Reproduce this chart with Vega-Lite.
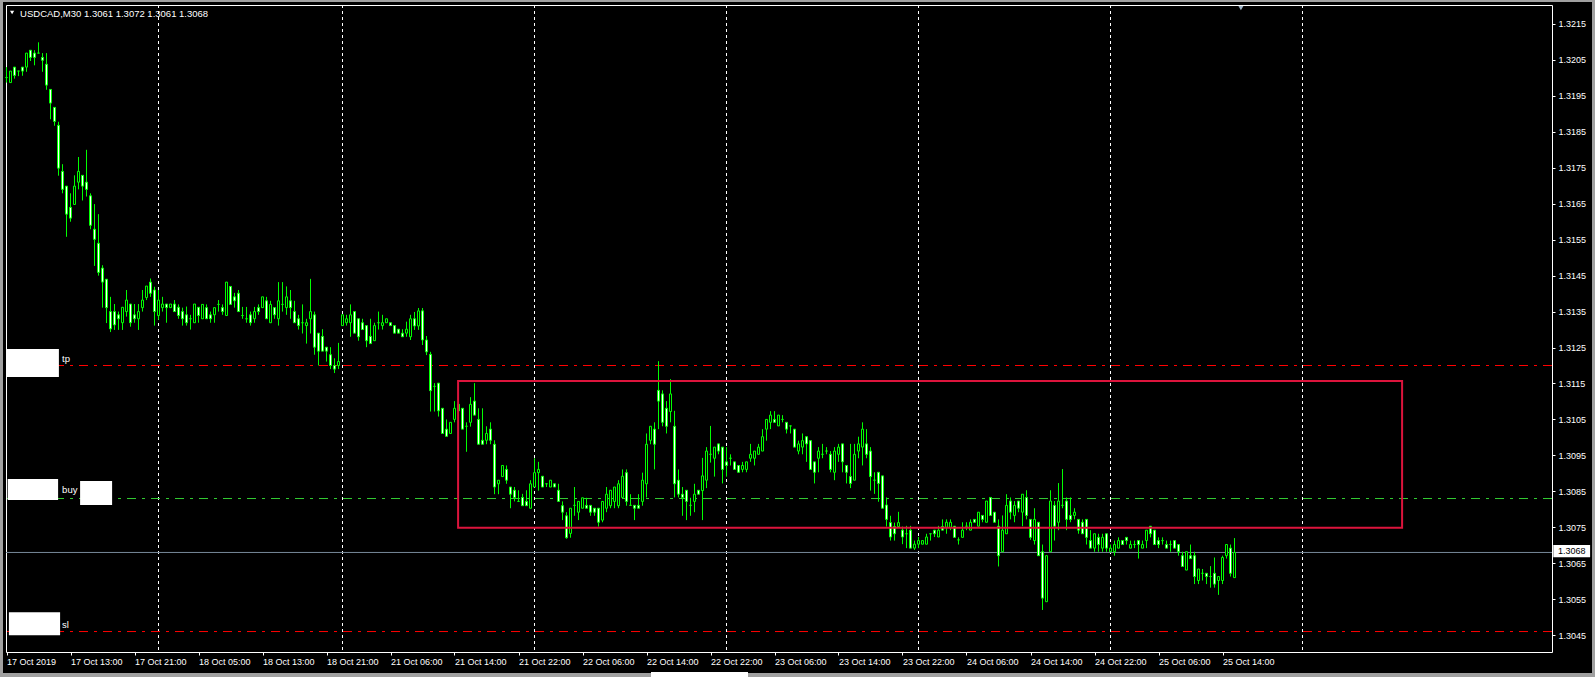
{
"$schema":"https://vega.github.io/schema/vega-lite/v6.json",
"width":1546,"height":647,
"autosize":{"type":"none"},
"padding":{"left":6,"top":5,"right":43,"bottom":25},
"background":"#000000",
"config":{"view":{"stroke":"#ffffff","strokeWidth":1},
"axis":{"domain":false,"grid":false,"tickColor":"#ffffff","labelColor":"#ffffff","labelFont":"Liberation Sans","labelFontSize":9,"labelOverlap":false,"labelFlush":false,"labelBound":false}},
"resolve":{"axis":{"x":"independent","y":"independent"}},
"datasets":{
"candles":[
{"i":0,"o":1.32001,"h":1.3203,"l":1.31987,"c":1.32001},
{"i":1,"o":1.31987,"h":1.32019,"l":1.31987,"c":1.32019},
{"i":2,"o":1.3203,"h":1.3203,"l":1.31998,"c":1.32007},
{"i":3,"o":1.32019,"h":1.32019,"l":1.32005,"c":1.32019},
{"i":4,"o":1.3203,"h":1.3203,"l":1.32006,"c":1.32019},
{"i":5,"o":1.3203,"h":1.32069,"l":1.32017,"c":1.32069},
{"i":6,"o":1.32077,"h":1.32077,"l":1.32047,"c":1.32057},
{"i":7,"o":1.32069,"h":1.32077,"l":1.32035,"c":1.32057},
{"i":8,"o":1.32069,"h":1.32099,"l":1.32069,"c":1.32069},
{"i":9,"o":1.32057,"h":1.32069,"l":1.32017,"c":1.32049},
{"i":10,"o":1.32038,"h":1.32069,"l":1.31967,"c":1.3198},
{"i":11,"o":1.31968,"h":1.31968,"l":1.31885,"c":1.3193},
{"i":12,"o":1.31918,"h":1.31918,"l":1.31867,"c":1.31879},
{"i":13,"o":1.31868,"h":1.31878,"l":1.31728,"c":1.31749},
{"i":14,"o":1.3174,"h":1.3176,"l":1.31679,"c":1.3169},
{"i":15,"o":1.31699,"h":1.31699,"l":1.31558,"c":1.31621},
{"i":16,"o":1.3164,"h":1.31679,"l":1.316,"c":1.3161},
{"i":17,"o":1.31648,"h":1.31729,"l":1.31648,"c":1.31699},
{"i":18,"o":1.3171,"h":1.3178,"l":1.3169,"c":1.3174},
{"i":19,"o":1.31729,"h":1.31729,"l":1.31659,"c":1.31699},
{"i":20,"o":1.3171,"h":1.318,"l":1.3167,"c":1.3169},
{"i":21,"o":1.31672,"h":1.31679,"l":1.31579,"c":1.3159},
{"i":22,"o":1.31579,"h":1.31649,"l":1.31477,"c":1.31551},
{"i":23,"o":1.3154,"h":1.31621,"l":1.3145,"c":1.31459},
{"i":24,"o":1.31471,"h":1.31479,"l":1.31361,"c":1.31432},
{"i":25,"o":1.3144,"h":1.3144,"l":1.31318,"c":1.31361},
{"i":26,"o":1.3135,"h":1.31391,"l":1.31293,"c":1.31302},
{"i":27,"o":1.3135,"h":1.31371,"l":1.31299,"c":1.31313},
{"i":28,"o":1.31341,"h":1.3135,"l":1.31299,"c":1.3133},
{"i":29,"o":1.31319,"h":1.31362,"l":1.31299,"c":1.31362},
{"i":30,"o":1.3135,"h":1.3141,"l":1.31336,"c":1.31382},
{"i":31,"o":1.31371,"h":1.31371,"l":1.31308,"c":1.31319},
{"i":32,"o":1.31341,"h":1.31371,"l":1.31319,"c":1.3133},
{"i":33,"o":1.3133,"h":1.31371,"l":1.31299,"c":1.3135},
{"i":34,"o":1.31361,"h":1.3141,"l":1.3135,"c":1.31382},
{"i":35,"o":1.31389,"h":1.31421,"l":1.31382,"c":1.31421},
{"i":36,"o":1.31432,"h":1.31442,"l":1.31391,"c":1.31401},
{"i":37,"o":1.3141,"h":1.31419,"l":1.31311,"c":1.3135},
{"i":38,"o":1.31339,"h":1.3141,"l":1.31327,"c":1.31382},
{"i":39,"o":1.31361,"h":1.31391,"l":1.3135,"c":1.31371},
{"i":40,"o":1.31371,"h":1.31371,"l":1.31319,"c":1.31361},
{"i":41,"o":1.31361,"h":1.31371,"l":1.31361,"c":1.31371},
{"i":42,"o":1.31371,"h":1.31382,"l":1.3135,"c":1.3135},
{"i":43,"o":1.31362,"h":1.3137,"l":1.3133,"c":1.31339},
{"i":44,"o":1.3135,"h":1.31361,"l":1.31311,"c":1.3133},
{"i":45,"o":1.31341,"h":1.31364,"l":1.31311,"c":1.31319},
{"i":46,"o":1.3133,"h":1.31341,"l":1.313,"c":1.3133},
{"i":47,"o":1.31319,"h":1.31371,"l":1.31319,"c":1.31371},
{"i":48,"o":1.31362,"h":1.31362,"l":1.31319,"c":1.31339},
{"i":49,"o":1.3133,"h":1.3137,"l":1.3133,"c":1.3137},
{"i":50,"o":1.31361,"h":1.3137,"l":1.3133,"c":1.3133},
{"i":51,"o":1.31341,"h":1.3135,"l":1.31319,"c":1.3133},
{"i":52,"o":1.31341,"h":1.31361,"l":1.31319,"c":1.31361},
{"i":53,"o":1.3137,"h":1.31382,"l":1.3135,"c":1.3137},
{"i":54,"o":1.31361,"h":1.3137,"l":1.31341,"c":1.3135},
{"i":55,"o":1.31339,"h":1.31432,"l":1.31339,"c":1.31432},
{"i":56,"o":1.3142,"h":1.3142,"l":1.3137,"c":1.3137},
{"i":57,"o":1.31391,"h":1.31402,"l":1.31361,"c":1.3138},
{"i":58,"o":1.31401,"h":1.3141,"l":1.3135,"c":1.3135},
{"i":59,"o":1.31339,"h":1.31363,"l":1.3133,"c":1.31339},
{"i":60,"o":1.3133,"h":1.31363,"l":1.31319,"c":1.3133},
{"i":61,"o":1.31341,"h":1.3135,"l":1.31311,"c":1.31319},
{"i":62,"o":1.3133,"h":1.31363,"l":1.31319,"c":1.3135},
{"i":63,"o":1.31361,"h":1.3137,"l":1.31341,"c":1.3135},
{"i":64,"o":1.31361,"h":1.31391,"l":1.31361,"c":1.31391},
{"i":65,"o":1.3138,"h":1.31391,"l":1.3133,"c":1.3133},
{"i":66,"o":1.31319,"h":1.3138,"l":1.31319,"c":1.3137},
{"i":67,"o":1.31361,"h":1.31361,"l":1.3133,"c":1.31341},
{"i":68,"o":1.3133,"h":1.31432,"l":1.31311,"c":1.3138},
{"i":69,"o":1.3137,"h":1.31432,"l":1.3135,"c":1.3137},
{"i":70,"o":1.31361,"h":1.3142,"l":1.31341,"c":1.31391},
{"i":71,"o":1.3138,"h":1.3141,"l":1.3133,"c":1.31361},
{"i":72,"o":1.3135,"h":1.3138,"l":1.31319,"c":1.31319},
{"i":73,"o":1.3133,"h":1.31341,"l":1.313,"c":1.31311},
{"i":74,"o":1.31319,"h":1.3137,"l":1.31289,"c":1.31319},
{"i":75,"o":1.31311,"h":1.3133,"l":1.31261,"c":1.31319},
{"i":76,"o":1.3133,"h":1.31441,"l":1.31289,"c":1.3135},
{"i":77,"o":1.31341,"h":1.3135,"l":1.3123,"c":1.31251},
{"i":78,"o":1.3129,"h":1.3129,"l":1.312,"c":1.3124},
{"i":79,"o":1.31281,"h":1.31301,"l":1.3124,"c":1.3124},
{"i":80,"o":1.31251,"h":1.31251,"l":1.31211,"c":1.3124},
{"i":81,"o":1.3123,"h":1.31251,"l":1.3119,"c":1.312},
{"i":82,"o":1.312,"h":1.3122,"l":1.31179,"c":1.3119},
{"i":83,"o":1.312,"h":1.31263,"l":1.3119,"c":1.31211},
{"i":84,"o":1.31311,"h":1.31341,"l":1.31311,"c":1.31341},
{"i":85,"o":1.31319,"h":1.31341,"l":1.31311,"c":1.3133},
{"i":86,"o":1.31319,"h":1.3137,"l":1.3128,"c":1.31341},
{"i":87,"o":1.3135,"h":1.3135,"l":1.3129,"c":1.3129},
{"i":88,"o":1.3133,"h":1.3133,"l":1.31269,"c":1.3128},
{"i":89,"o":1.31319,"h":1.3133,"l":1.313,"c":1.313},
{"i":90,"o":1.31311,"h":1.31311,"l":1.31251,"c":1.31269},
{"i":91,"o":1.31281,"h":1.3133,"l":1.31261,"c":1.31261},
{"i":92,"o":1.31269,"h":1.31319,"l":1.31269,"c":1.31311},
{"i":93,"o":1.31319,"h":1.3135,"l":1.313,"c":1.31319},
{"i":94,"o":1.31311,"h":1.31341,"l":1.313,"c":1.31319},
{"i":95,"o":1.31319,"h":1.3133,"l":1.31319,"c":1.3133},
{"i":96,"o":1.31319,"h":1.31319,"l":1.31311,"c":1.31311},
{"i":97,"o":1.31311,"h":1.31311,"l":1.3129,"c":1.3129},
{"i":98,"o":1.31301,"h":1.31301,"l":1.3129,"c":1.3129},
{"i":99,"o":1.3129,"h":1.31301,"l":1.3128,"c":1.3128},
{"i":100,"o":1.3129,"h":1.31322,"l":1.3128,"c":1.31301},
{"i":101,"o":1.3128,"h":1.31341,"l":1.31271,"c":1.3133},
{"i":102,"o":1.3133,"h":1.31349,"l":1.31299,"c":1.3131},
{"i":103,"o":1.3131,"h":1.3136,"l":1.31299,"c":1.31352},
{"i":104,"o":1.31352,"h":1.3136,"l":1.31257,"c":1.31271},
{"i":105,"o":1.31271,"h":1.31282,"l":1.31229,"c":1.31238},
{"i":106,"o":1.31231,"h":1.31238,"l":1.31072,"c":1.3113},
{"i":107,"o":1.31142,"h":1.31151,"l":1.31072,"c":1.31142},
{"i":108,"o":1.31151,"h":1.31151,"l":1.31058,"c":1.31074},
{"i":109,"o":1.31081,"h":1.31081,"l":1.31011,"c":1.31011},
{"i":110,"o":1.31023,"h":1.3105,"l":1.31003,"c":1.31003},
{"i":111,"o":1.31011,"h":1.31042,"l":1.31011,"c":1.31042},
{"i":112,"o":1.3105,"h":1.31101,"l":1.31042,"c":1.31081},
{"i":113,"o":1.31092,"h":1.31101,"l":1.31039,"c":1.31074},
{"i":114,"o":1.31081,"h":1.31081,"l":1.31023,"c":1.31023},
{"i":115,"o":1.31031,"h":1.31042,"l":1.3096,"c":1.31031},
{"i":116,"o":1.31042,"h":1.31112,"l":1.3103,"c":1.31092},
{"i":117,"o":1.31101,"h":1.31151,"l":1.31062,"c":1.31062},
{"i":118,"o":1.3105,"h":1.31081,"l":1.30981,"c":1.30981},
{"i":119,"o":1.30992,"h":1.31081,"l":1.30981,"c":1.30981},
{"i":120,"o":1.30992,"h":1.31031,"l":1.30981,"c":1.31011},
{"i":121,"o":1.31023,"h":1.31042,"l":1.30981,"c":1.30992},
{"i":122,"o":1.30981,"h":1.30992,"l":1.30842,"c":1.30862},
{"i":123,"o":1.30871,"h":1.30881,"l":1.30842,"c":1.30881},
{"i":124,"o":1.30891,"h":1.30922,"l":1.30891,"c":1.30922},
{"i":125,"o":1.30911,"h":1.30922,"l":1.30871,"c":1.30881},
{"i":126,"o":1.30862,"h":1.30862,"l":1.30803,"c":1.30842},
{"i":127,"o":1.30853,"h":1.30862,"l":1.30822,"c":1.30833},
{"i":128,"o":1.30822,"h":1.30853,"l":1.30822,"c":1.30822},
{"i":129,"o":1.30833,"h":1.30843,"l":1.3081,"c":1.3081},
{"i":130,"o":1.30822,"h":1.30853,"l":1.3081,"c":1.3081},
{"i":131,"o":1.30803,"h":1.30881,"l":1.30803,"c":1.30871},
{"i":132,"o":1.30862,"h":1.30942,"l":1.30862,"c":1.30902},
{"i":133,"o":1.30902,"h":1.30932,"l":1.30852,"c":1.30911},
{"i":134,"o":1.30892,"h":1.30892,"l":1.30862,"c":1.30862},
{"i":135,"o":1.30871,"h":1.30871,"l":1.30862,"c":1.30871},
{"i":136,"o":1.30862,"h":1.30881,"l":1.30862,"c":1.30881},
{"i":137,"o":1.30871,"h":1.30871,"l":1.30862,"c":1.30862},
{"i":138,"o":1.30853,"h":1.30871,"l":1.30822,"c":1.30822},
{"i":139,"o":1.3081,"h":1.30822,"l":1.3077,"c":1.30792},
{"i":140,"o":1.30782,"h":1.30792,"l":1.30718,"c":1.30721},
{"i":141,"o":1.30733,"h":1.30803,"l":1.30721,"c":1.30803},
{"i":142,"o":1.30811,"h":1.30862,"l":1.30782,"c":1.30811},
{"i":143,"o":1.30792,"h":1.30822,"l":1.3077,"c":1.30822},
{"i":144,"o":1.30803,"h":1.30832,"l":1.30803,"c":1.30832},
{"i":145,"o":1.30811,"h":1.30832,"l":1.30803,"c":1.30803},
{"i":146,"o":1.30811,"h":1.30811,"l":1.30782,"c":1.30792},
{"i":147,"o":1.30803,"h":1.30803,"l":1.30782,"c":1.30792},
{"i":148,"o":1.30803,"h":1.30803,"l":1.30752,"c":1.30764},
{"i":149,"o":1.3077,"h":1.30822,"l":1.30764,"c":1.30822},
{"i":150,"o":1.30803,"h":1.30862,"l":1.30792,"c":1.30842},
{"i":151,"o":1.3081,"h":1.30853,"l":1.30803,"c":1.30853},
{"i":152,"o":1.30822,"h":1.30862,"l":1.30803,"c":1.30862},
{"i":153,"o":1.3081,"h":1.30881,"l":1.30803,"c":1.30871},
{"i":154,"o":1.30833,"h":1.30911,"l":1.30833,"c":1.30892},
{"i":155,"o":1.30902,"h":1.30911,"l":1.3081,"c":1.30822},
{"i":156,"o":1.30811,"h":1.30842,"l":1.30811,"c":1.30811},
{"i":157,"o":1.30811,"h":1.30811,"l":1.3077,"c":1.30803},
{"i":158,"o":1.30811,"h":1.30842,"l":1.30803,"c":1.30803},
{"i":159,"o":1.30822,"h":1.30902,"l":1.3081,"c":1.30881},
{"i":160,"o":1.30871,"h":1.31011,"l":1.30833,"c":1.30981},
{"i":161,"o":1.30992,"h":1.31031,"l":1.30981,"c":1.31031},
{"i":162,"o":1.31023,"h":1.31042,"l":1.30911,"c":1.30981},
{"i":163,"o":1.31131,"h":1.31212,"l":1.31023,"c":1.31101},
{"i":164,"o":1.31121,"h":1.31131,"l":1.31031,"c":1.31042},
{"i":165,"o":1.31081,"h":1.31101,"l":1.31011,"c":1.31031},
{"i":166,"o":1.31072,"h":1.31162,"l":1.31042,"c":1.31121},
{"i":167,"o":1.31031,"h":1.31074,"l":1.30833,"c":1.30871},
{"i":168,"o":1.30881,"h":1.30911,"l":1.30833,"c":1.30842},
{"i":169,"o":1.30842,"h":1.30862,"l":1.30782,"c":1.30833},
{"i":170,"o":1.30853,"h":1.30853,"l":1.3077,"c":1.30822},
{"i":171,"o":1.30811,"h":1.30832,"l":1.30782,"c":1.30811},
{"i":172,"o":1.30822,"h":1.30871,"l":1.30792,"c":1.30842},
{"i":173,"o":1.30853,"h":1.30853,"l":1.30842,"c":1.30842},
{"i":174,"o":1.30852,"h":1.30943,"l":1.3077,"c":1.30893},
{"i":175,"o":1.30881,"h":1.30973,"l":1.30859,"c":1.30962},
{"i":176,"o":1.30953,"h":1.31032,"l":1.3093,"c":1.30953},
{"i":177,"o":1.30942,"h":1.30973,"l":1.30891,"c":1.30973},
{"i":178,"o":1.30982,"h":1.30982,"l":1.30953,"c":1.30962},
{"i":179,"o":1.30973,"h":1.30973,"l":1.30872,"c":1.30911},
{"i":180,"o":1.30932,"h":1.30973,"l":1.30891,"c":1.30922},
{"i":181,"o":1.30942,"h":1.30953,"l":1.30922,"c":1.30942},
{"i":182,"o":1.30932,"h":1.30932,"l":1.30911,"c":1.30911},
{"i":183,"o":1.30922,"h":1.30922,"l":1.30903,"c":1.30903},
{"i":184,"o":1.30911,"h":1.30932,"l":1.30903,"c":1.30922},
{"i":185,"o":1.30911,"h":1.30932,"l":1.30903,"c":1.30932},
{"i":186,"o":1.30942,"h":1.30982,"l":1.30932,"c":1.30953},
{"i":187,"o":1.30942,"h":1.30962,"l":1.30922,"c":1.30962},
{"i":188,"o":1.30953,"h":1.30982,"l":1.30953,"c":1.30973},
{"i":189,"o":1.30962,"h":1.31023,"l":1.30962,"c":1.31002},
{"i":190,"o":1.31023,"h":1.3105,"l":1.30991,"c":1.3105},
{"i":191,"o":1.31042,"h":1.31073,"l":1.31023,"c":1.31062},
{"i":192,"o":1.3105,"h":1.31073,"l":1.31042,"c":1.31042},
{"i":193,"o":1.31032,"h":1.31062,"l":1.31032,"c":1.31062},
{"i":194,"o":1.3105,"h":1.31062,"l":1.31042,"c":1.3105},
{"i":195,"o":1.31042,"h":1.31042,"l":1.31011,"c":1.31023},
{"i":196,"o":1.31032,"h":1.31032,"l":1.31011,"c":1.31032},
{"i":197,"o":1.31023,"h":1.31023,"l":1.30973,"c":1.30973},
{"i":198,"o":1.30962,"h":1.30991,"l":1.30953,"c":1.30982},
{"i":199,"o":1.30973,"h":1.31011,"l":1.30953,"c":1.30991},
{"i":200,"o":1.31002,"h":1.31002,"l":1.30932,"c":1.30982},
{"i":201,"o":1.30991,"h":1.30991,"l":1.30911,"c":1.30911},
{"i":202,"o":1.30932,"h":1.30932,"l":1.30872,"c":1.30903},
{"i":203,"o":1.30942,"h":1.30973,"l":1.30903,"c":1.30962},
{"i":204,"o":1.30953,"h":1.30982,"l":1.30942,"c":1.30953},
{"i":205,"o":1.30962,"h":1.30973,"l":1.30953,"c":1.30962},
{"i":206,"o":1.30953,"h":1.30962,"l":1.30903,"c":1.30911},
{"i":207,"o":1.30903,"h":1.30973,"l":1.30881,"c":1.30962},
{"i":208,"o":1.30953,"h":1.30982,"l":1.30932,"c":1.30973},
{"i":209,"o":1.30982,"h":1.30982,"l":1.30903,"c":1.30932},
{"i":210,"o":1.30922,"h":1.30922,"l":1.30872,"c":1.30903},
{"i":211,"o":1.30891,"h":1.30982,"l":1.30859,"c":1.30872},
{"i":212,"o":1.30881,"h":1.30982,"l":1.30881,"c":1.30953},
{"i":213,"o":1.30962,"h":1.31002,"l":1.30942,"c":1.30982},
{"i":214,"o":1.30973,"h":1.31042,"l":1.30922,"c":1.31023},
{"i":215,"o":1.30982,"h":1.31023,"l":1.30942,"c":1.30953},
{"i":216,"o":1.30962,"h":1.30973,"l":1.30852,"c":1.30891},
{"i":217,"o":1.30881,"h":1.30903,"l":1.30843,"c":1.30881},
{"i":218,"o":1.30903,"h":1.30903,"l":1.30821,"c":1.30872},
{"i":219,"o":1.30893,"h":1.30893,"l":1.30803,"c":1.30803},
{"i":220,"o":1.30812,"h":1.30833,"l":1.30752,"c":1.30772},
{"i":221,"o":1.30763,"h":1.30782,"l":1.30713,"c":1.30723},
{"i":222,"o":1.30752,"h":1.30763,"l":1.30713,"c":1.30732},
{"i":223,"o":1.30752,"h":1.30793,"l":1.30752,"c":1.30763},
{"i":224,"o":1.30742,"h":1.30752,"l":1.30703,"c":1.30723},
{"i":225,"o":1.30732,"h":1.30754,"l":1.30692,"c":1.30732},
{"i":226,"o":1.30742,"h":1.30754,"l":1.30692,"c":1.30692},
{"i":227,"o":1.30692,"h":1.30713,"l":1.30687,"c":1.30703},
{"i":228,"o":1.30703,"h":1.30723,"l":1.30692,"c":1.30713},
{"i":229,"o":1.30703,"h":1.30713,"l":1.30703,"c":1.30713},
{"i":230,"o":1.30703,"h":1.30732,"l":1.30703,"c":1.30723},
{"i":231,"o":1.30732,"h":1.30732,"l":1.30713,"c":1.30732},
{"i":232,"o":1.30742,"h":1.30742,"l":1.30723,"c":1.30732},
{"i":233,"o":1.30723,"h":1.30754,"l":1.30723,"c":1.30742},
{"i":234,"o":1.30752,"h":1.30772,"l":1.30742,"c":1.30742},
{"i":235,"o":1.3075,"h":1.30772,"l":1.30732,"c":1.30764},
{"i":236,"o":1.3075,"h":1.30772,"l":1.30742,"c":1.30764},
{"i":237,"o":1.30753,"h":1.30753,"l":1.30722,"c":1.30722},
{"i":238,"o":1.30715,"h":1.30722,"l":1.30702,"c":1.30715},
{"i":239,"o":1.30722,"h":1.30764,"l":1.30722,"c":1.30742},
{"i":240,"o":1.30753,"h":1.30764,"l":1.30742,"c":1.30753},
{"i":241,"o":1.30742,"h":1.30772,"l":1.30742,"c":1.30764},
{"i":242,"o":1.30772,"h":1.30772,"l":1.30764,"c":1.30764},
{"i":243,"o":1.30753,"h":1.30792,"l":1.30753,"c":1.30792},
{"i":244,"o":1.30783,"h":1.30783,"l":1.30764,"c":1.30772},
{"i":245,"o":1.30764,"h":1.30823,"l":1.30764,"c":1.30823},
{"i":246,"o":1.30833,"h":1.30833,"l":1.30783,"c":1.30783},
{"i":247,"o":1.30792,"h":1.30792,"l":1.30764,"c":1.30764},
{"i":248,"o":1.30753,"h":1.30772,"l":1.30641,"c":1.30671},
{"i":249,"o":1.30682,"h":1.30783,"l":1.30682,"c":1.30742},
{"i":250,"o":1.30732,"h":1.30842,"l":1.30732,"c":1.30811},
{"i":251,"o":1.30823,"h":1.30833,"l":1.30772,"c":1.30792},
{"i":252,"o":1.30783,"h":1.30823,"l":1.30764,"c":1.30811},
{"i":253,"o":1.30823,"h":1.30823,"l":1.30792,"c":1.30803},
{"i":254,"o":1.30792,"h":1.30842,"l":1.30753,"c":1.30842},
{"i":255,"o":1.30833,"h":1.30853,"l":1.30772,"c":1.30783},
{"i":256,"o":1.30772,"h":1.30772,"l":1.30715,"c":1.30722},
{"i":257,"o":1.30713,"h":1.30803,"l":1.30702,"c":1.30772},
{"i":258,"o":1.30764,"h":1.30764,"l":1.30671,"c":1.30671},
{"i":259,"o":1.30682,"h":1.30702,"l":1.3052,"c":1.30553},
{"i":260,"o":1.30543,"h":1.30671,"l":1.30543,"c":1.30671},
{"i":261,"o":1.30682,"h":1.30853,"l":1.30682,"c":1.30823},
{"i":262,"o":1.30811,"h":1.30823,"l":1.30713,"c":1.30753},
{"i":263,"o":1.30764,"h":1.30873,"l":1.30742,"c":1.30823},
{"i":264,"o":1.30811,"h":1.30912,"l":1.30803,"c":1.30811},
{"i":265,"o":1.30823,"h":1.30833,"l":1.30742,"c":1.30772},
{"i":266,"o":1.30783,"h":1.30833,"l":1.30764,"c":1.30772},
{"i":267,"o":1.30783,"h":1.30803,"l":1.30772,"c":1.30792},
{"i":268,"o":1.30772,"h":1.30772,"l":1.30732,"c":1.30742},
{"i":269,"o":1.30764,"h":1.30772,"l":1.30732,"c":1.30732},
{"i":270,"o":1.30772,"h":1.30772,"l":1.30702,"c":1.30722},
{"i":271,"o":1.30713,"h":1.30742,"l":1.30692,"c":1.30692},
{"i":272,"o":1.30692,"h":1.30732,"l":1.30682,"c":1.30732},
{"i":273,"o":1.30722,"h":1.30732,"l":1.30682,"c":1.30702},
{"i":274,"o":1.30692,"h":1.30732,"l":1.30682,"c":1.30722},
{"i":275,"o":1.30732,"h":1.30732,"l":1.30682,"c":1.30692},
{"i":276,"o":1.30682,"h":1.30702,"l":1.30682,"c":1.30692},
{"i":277,"o":1.30682,"h":1.30713,"l":1.30671,"c":1.30702},
{"i":278,"o":1.30692,"h":1.30722,"l":1.30692,"c":1.30713},
{"i":279,"o":1.30713,"h":1.30713,"l":1.30702,"c":1.30702},
{"i":280,"o":1.30722,"h":1.30722,"l":1.30702,"c":1.30713},
{"i":281,"o":1.30692,"h":1.30713,"l":1.30692,"c":1.30702},
{"i":282,"o":1.30702,"h":1.30713,"l":1.30692,"c":1.30702},
{"i":283,"o":1.30713,"h":1.30713,"l":1.30663,"c":1.30702},
{"i":284,"o":1.30692,"h":1.30713,"l":1.30692,"c":1.30702},
{"i":285,"o":1.30713,"h":1.30742,"l":1.30692,"c":1.30742},
{"i":286,"o":1.30753,"h":1.30753,"l":1.30722,"c":1.30732},
{"i":287,"o":1.30742,"h":1.30742,"l":1.30702,"c":1.30702},
{"i":288,"o":1.30713,"h":1.30722,"l":1.30692,"c":1.30702},
{"i":289,"o":1.30713,"h":1.30722,"l":1.30702,"c":1.30713},
{"i":290,"o":1.30702,"h":1.30713,"l":1.30692,"c":1.30692},
{"i":291,"o":1.30702,"h":1.30713,"l":1.30682,"c":1.30702},
{"i":292,"o":1.30713,"h":1.30713,"l":1.30692,"c":1.30692},
{"i":293,"o":1.30702,"h":1.30702,"l":1.30671,"c":1.30682},
{"i":294,"o":1.30671,"h":1.30682,"l":1.30641,"c":1.30641},
{"i":295,"o":1.30631,"h":1.30682,"l":1.30631,"c":1.30682},
{"i":296,"o":1.30671,"h":1.30702,"l":1.30663,"c":1.30663},
{"i":297,"o":1.30671,"h":1.30682,"l":1.30592,"c":1.30613},
{"i":298,"o":1.30602,"h":1.30634,"l":1.30592,"c":1.30634},
{"i":299,"o":1.30622,"h":1.30634,"l":1.30602,"c":1.30622},
{"i":300,"o":1.30622,"h":1.30622,"l":1.30592,"c":1.30613},
{"i":301,"o":1.30613,"h":1.30642,"l":1.30582,"c":1.30613},
{"i":302,"o":1.30622,"h":1.30666,"l":1.30582,"c":1.30592},
{"i":303,"o":1.30602,"h":1.30613,"l":1.30562,"c":1.30613},
{"i":304,"o":1.30602,"h":1.30671,"l":1.30592,"c":1.30666},
{"i":305,"o":1.30671,"h":1.30702,"l":1.30663,"c":1.30702},
{"i":306,"o":1.30692,"h":1.30702,"l":1.30613,"c":1.30622},
{"i":307,"o":1.3061,"h":1.3072,"l":1.3061,"c":1.3068}
],
"grid":[{"g":38},{"g":84},{"g":132},{"g":180},{"g":228},{"g":276},{"g":324}],
"levels":[{"k":"tp","p":1.312},{"k":"buy","p":1.3083},{"k":"sl","p":1.3046}],
"boxes":[{"x1":0.1,"x2":13.1,"y1":1.31246,"y2":1.31168},{"x1":0.3,"x2":12.9,"y1":1.30884,"y2":1.30826},{"x1":18.4,"x2":26.4,"y1":1.30879,"y2":1.30812},{"x1":0.6,"x2":13.4,"y1":1.30514,"y2":1.3045}],
"labels":[{"x":13.9,"y":1.3121,"t":"tp"},{"x":13.9,"y":1.30845,"t":"buy"},{"x":13.9,"y":1.30469,"t":"sl"}],
"zone":[{"x1":112.9,"x2":348.9,"y1":1.31157,"y2":1.30749}],
"frame":[{"x1":-1.625,"x2":397.125,"y1":1.322167,"y2":1.322111},{"x1":-1.625,"x2":-0.875,"y1":1.322167,"y2":1.303335},{"x1":396.375,"x2":397.125,"y1":1.322167,"y2":1.303335},{"x1":-1.625,"x2":397.125,"y1":1.303446,"y2":1.303335}],
"tab":[{"x1":161.125,"x2":185.375,"y1":1.303474,"y2":1.303335}]
},
"layer":[
{"data":{"name":"grid"},"mark":{"type":"rule","color":"#ffffff","strokeDash":[3,3],"strokeWidth":1},
 "encoding":{"x":{"field":"g","type":"quantitative","axis":null,"scale":{"domain":[-0.125,386.375],"nice":false,"zero":false,"padding":0}}}},
{"data":{"name":"levels"},"mark":{"type":"rule","strokeDash":[9,6,3,6],"strokeWidth":1},
 "encoding":{"y":{"field":"p","type":"quantitative","axis":null,"scale":{"domain":[1.304031,1.322028],"nice":false,"zero":false,"padding":0}},
 "color":{"field":"k","type":"nominal","legend":null,"scale":{"domain":["tp","buy","sl"],"range":["#ff0000","#32cd32","#ff0000"]}}}},
{"data":{"values":[{"p":1.3068}]},"mark":{"type":"rule","color":"#778899","strokeWidth":1},
 "encoding":{"y":{"field":"p","type":"quantitative","axis":null}}},
{"data":{"name":"candles"},"mark":{"type":"rule","color":"#00ff00","strokeWidth":1},
 "encoding":{
  "x":{"field":"i","type":"quantitative","title":null,"axis":{"orient":"bottom","values":[0,16,32,48,64,80,96,112,128,144,160,176,192,208,224,240,256,272,288,304],
   "labelExpr":"['17 Oct 2019','17 Oct 13:00','17 Oct 21:00','18 Oct 05:00','18 Oct 13:00','18 Oct 21:00','21 Oct 06:00','21 Oct 14:00','21 Oct 22:00','22 Oct 06:00','22 Oct 14:00','22 Oct 22:00','23 Oct 06:00','23 Oct 14:00','23 Oct 22:00','24 Oct 06:00','24 Oct 14:00','24 Oct 22:00','25 Oct 06:00','25 Oct 14:00'][round(datum.value/16)]",
   "labelAlign":"left","labelBaseline":"top","labelPadding":2,"tickSize":3,"title":null}},
  "y":{"field":"l","type":"quantitative","title":null,"axis":{"orient":"right","values":[1.3045,1.3055,1.3065,1.3075,1.3085,1.3095,1.3105,1.3115,1.3125,1.3135,1.3145,1.3155,1.3165,1.3175,1.3185,1.3195,1.3205,1.3215],"format":".4f","tickSize":3,"labelPadding":3,"labelBaseline":"middle","title":null}},
  "y2":{"field":"h"}}},
{"data":{"name":"candles"},"mark":{"type":"bar","size":2,"stroke":"#00ff00","strokeWidth":1},
 "encoding":{"x":{"field":"i","type":"quantitative","axis":null},
  "y":{"field":"o","type":"quantitative","axis":null},"y2":{"field":"c"},
  "fill":{"condition":{"test":"datum.c > datum.o","value":"#000000"},"value":"#ffffff"}}},
{"data":{"name":"zone"},"mark":{"type":"rect","fillOpacity":0,"stroke":"#dc143c","strokeWidth":2},
 "encoding":{"x":{"field":"x1","type":"quantitative","axis":null},"x2":{"field":"x2"},"y":{"field":"y1","type":"quantitative","axis":null},"y2":{"field":"y2"}}},
{"data":{"name":"boxes"},"mark":{"type":"rect","fill":"#ffffff"},
 "encoding":{"x":{"field":"x1","type":"quantitative","axis":null},"x2":{"field":"x2"},"y":{"field":"y1","type":"quantitative","axis":null},"y2":{"field":"y2"}}},
{"data":{"name":"labels"},"mark":{"type":"text","color":"#ffffff","font":"Liberation Sans","fontSize":9.5,"align":"left","baseline":"alphabetic"},
 "encoding":{"x":{"field":"x","type":"quantitative","axis":null},"y":{"field":"y","type":"quantitative","axis":null},"text":{"field":"t"}}},
{"data":{"values":[{"x":3.4,"y":1.32178,"t":"USDCAD,M30  1.3061 1.3072 1.3061 1.3068"}]},"mark":{"type":"text","color":"#ffffff","font":"Liberation Sans","fontSize":9.5,"align":"left","baseline":"middle"},
 "encoding":{"x":{"field":"x","type":"quantitative","axis":null},"y":{"field":"y","type":"quantitative","axis":null},"text":{"field":"t"}}},
{"data":{"values":[{"x":1.4,"y":1.32182}]},"mark":{"type":"point","shape":"triangle-down","filled":true,"color":"#ffffff","size":18,"opacity":1},
 "encoding":{"x":{"field":"x","type":"quantitative","axis":null},"y":{"field":"y","type":"quantitative","axis":null}}},
{"data":{"values":[{"x":308.6,"y":1.32194}]},"mark":{"type":"point","shape":"triangle-down","filled":true,"color":"#9fb4c8","size":25,"opacity":1},
 "encoding":{"x":{"field":"x","type":"quantitative","axis":null},"y":{"field":"y","type":"quantitative","axis":null}}},
{"data":{"values":[{"x1":386.7,"x2":395.9,"y1":1.30701,"y2":1.30667}]},"mark":{"type":"rect","fill":"#ffffff","clip":false},
 "encoding":{"x":{"field":"x1","type":"quantitative","axis":null},"x2":{"field":"x2"},"y":{"field":"y1","type":"quantitative","axis":null},"y2":{"field":"y2"}}},
{"data":{"values":[{"x":391.3,"y":1.30684,"t":"1.3068"}]},"mark":{"type":"text","color":"#000000","font":"Liberation Sans","fontSize":9,"align":"center","baseline":"middle","clip":false},
 "encoding":{"x":{"field":"x","type":"quantitative","axis":null},"y":{"field":"y","type":"quantitative","axis":null},"text":{"field":"t"}}},
{"data":{"name":"frame"},"mark":{"type":"rect","fill":"#a0a0a0","clip":false},
 "encoding":{"x":{"field":"x1","type":"quantitative","axis":null},"x2":{"field":"x2"},"y":{"field":"y1","type":"quantitative","axis":null},"y2":{"field":"y2"}}},
{"data":{"name":"tab"},"mark":{"type":"rect","fill":"#ffffff","clip":false},
 "encoding":{"x":{"field":"x1","type":"quantitative","axis":null},"x2":{"field":"x2"},"y":{"field":"y1","type":"quantitative","axis":null},"y2":{"field":"y2"}}}
]
}
